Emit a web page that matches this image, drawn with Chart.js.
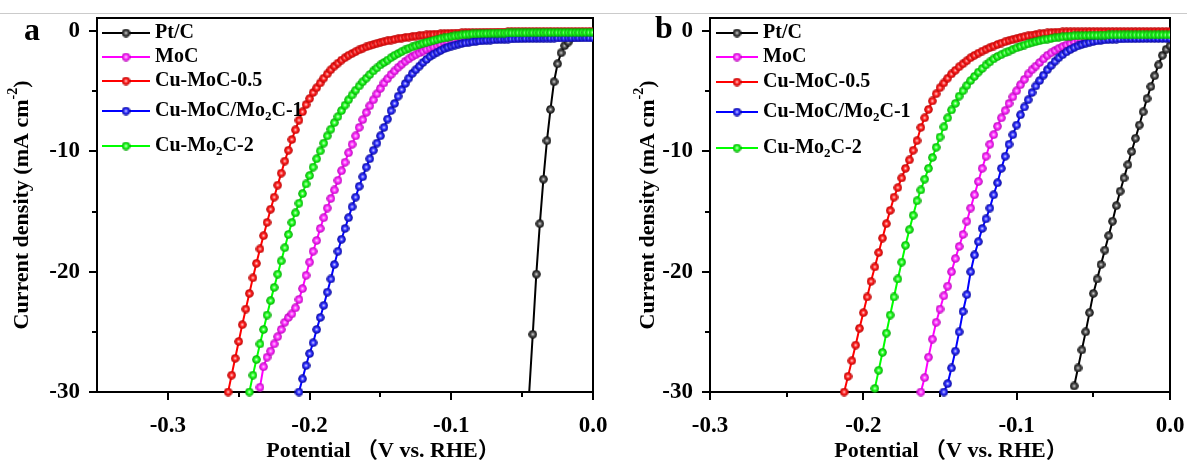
<!DOCTYPE html>
<html>
<head>
<meta charset="utf-8">
<script src="https://cdn.jsdelivr.net/npm/chart.js@4.4.1/dist/chart.umd.min.js"></script>
<style>
  html, body { margin: 0; padding: 0; background: #fff; }
  body { width: 1187px; height: 462px; position: relative; overflow: hidden; }
  .rule { position: absolute; left: 0; top: 13px; width: 1187px; height: 1px; background: #cbcbcb; }
  #chartA { position: absolute; left: 0; top: 0; }
  #chartB { position: absolute; left: 600px; top: 0; }
</style>
</head>
<body>
<div class="rule"></div>
<canvas id="chartA" width="625" height="462"></canvas>
<canvas id="chartB" width="587" height="462"></canvas>
<script>
// ---- data ----
const seriesNames = ['Pt/C', 'MoC', 'Cu-MoC-0.5', 'Cu-MoC/Mo_{2}C-1', 'Cu-Mo_{2}C-2'];
const seriesColors = ['#000000', '#ff00ff', '#ff0000', '#0000ff', '#00ff00'];

const potentialMajor = [-0.3, -0.2, -0.1, 0.0];
const potentialMinor = [-0.25, -0.15, -0.05];
const currentMajor = [-30, -20, -10, 0];
const currentMinor = [-25, -15, -5];

const xTitle = 'Potential （V vs. RHE）';
const yTitle = 'Current density (mA cm^{-2})';

// panel a : potential (V vs RHE), every series ends at 0.0
const potentialA = [
  -0.2575, -0.255, -0.2525, -0.25, -0.2475, -0.245, -0.2425, -0.24, -0.2375, -0.235,
  -0.2325, -0.23, -0.2275, -0.225, -0.2225, -0.22, -0.2175, -0.215, -0.2125, -0.21,
  -0.2075, -0.205, -0.2025, -0.2, -0.1975, -0.195, -0.1925, -0.19, -0.1875, -0.185,
  -0.1825, -0.18, -0.1775, -0.175, -0.1725, -0.17, -0.1675, -0.165, -0.1625, -0.16,
  -0.1575, -0.155, -0.1525, -0.15, -0.1475, -0.145, -0.1425, -0.14, -0.1375, -0.135,
  -0.1325, -0.13, -0.1275, -0.125, -0.1225, -0.12, -0.1175, -0.115, -0.1125, -0.11,
  -0.1075, -0.105, -0.1025, -0.1, -0.0975, -0.095, -0.0925, -0.09, -0.0875, -0.085,
  -0.0825, -0.08, -0.0775, -0.075, -0.0725, -0.07, -0.0675, -0.065, -0.0625, -0.06,
  -0.0575, -0.055, -0.0525, -0.05, -0.0475, -0.045, -0.0425, -0.04, -0.0375, -0.035,
  -0.0325, -0.03, -0.0275, -0.025, -0.0225, -0.02, -0.0175, -0.015, -0.0125, -0.01,
  -0.0075, -0.005, -0.0025, 0
];
const ptcA = [-30.0, -25.2, -20.2, -16.0, -12.3, -9.1, -6.5, -4.2, -2.7, -1.8,
  -1.2, -0.9, -0.8, -0.76, -0.74, -0.72, -0.71, -0.7, -0.7];
const mocA = [
  -29.6,
  -27.9, -27.1, -26.6, -26.0, -25.4, -24.8, -24.2, -23.8, -23.5, -23.0,
  -22.3, -21.4, -20.3, -19.2, -18.3, -17.4, -16.4, -15.5, -14.7, -13.9,
  -13.2, -12.4, -11.6, -10.9, -10.1, -9.4, -8.7, -8.0, -7.35, -6.75,
  -6.2, -5.7, -5.2, -4.75, -4.3, -3.95, -3.6, -3.3, -3.0, -2.75,
  -2.5, -2.3, -2.1, -1.95, -1.8, -1.65, -1.5, -1.4, -1.3, -1.2,
  -1.1, -1.0, -0.92, -0.84, -0.77, -0.71, -0.65, -0.6, -0.56, -0.52,
  -0.49, -0.46, -0.43, -0.41, -0.39, -0.37, -0.36, -0.35, -0.34, -0.33,
  -0.33, -0.32, -0.32, -0.31, -0.31, -0.31, -0.3, -0.3, -0.3, -0.3,
  -0.3, -0.3, -0.3, -0.3, -0.3, -0.3, -0.3, -0.3, -0.3, -0.3,
  -0.3, -0.3, -0.3, -0.3
];
const cuMoC05A = [
  -30.0, -28.6, -27.2, -25.8, -24.4, -23.1, -21.8, -20.5, -19.3, -18.1,
  -17.0, -15.9, -14.8, -13.8, -12.8, -11.8, -10.8, -9.9, -9.0, -8.2,
  -7.4, -6.7, -6.1, -5.6, -5.1, -4.7, -4.3, -3.9, -3.55, -3.2,
  -2.9, -2.65, -2.4, -2.2, -2.0, -1.85, -1.7, -1.55, -1.42, -1.3,
  -1.2, -1.1, -1.01, -0.93, -0.86, -0.79, -0.73, -0.67, -0.62, -0.57,
  -0.52, -0.48, -0.44, -0.4, -0.37, -0.34, -0.31, -0.28, -0.26, -0.24,
  -0.22, -0.2, -0.18, -0.17, -0.16, -0.15, -0.14, -0.13, -0.12, -0.11,
  -0.1, -0.1, -0.09, -0.09, -0.08, -0.08, -0.07, -0.07, -0.07, -0.06,
  -0.06, -0.06, -0.06, -0.05, -0.05, -0.05, -0.05, -0.05, -0.05, -0.05,
  -0.05, -0.05, -0.05, -0.05, -0.05, -0.05, -0.05, -0.05, -0.05, -0.05,
  -0.05, -0.05, -0.05, -0.05
];
const cuMoCMo2C1A = [
  -30.0, -28.9, -27.8, -26.8, -25.9, -24.8, -23.8, -22.8, -21.7, -20.6,
  -19.4, -18.3, -17.3, -16.4, -15.5, -14.6, -13.8, -12.9, -12.1, -11.3,
  -10.6, -9.9, -9.3, -8.7, -8.0, -7.3, -6.6, -6.0, -5.4, -4.85,
  -4.35, -3.9, -3.5, -3.2, -2.9, -2.6, -2.35, -2.1, -1.9, -1.75,
  -1.6, -1.45, -1.33, -1.23, -1.15, -1.08, -1.02, -0.97, -0.92, -0.88,
  -0.84, -0.81, -0.78, -0.75, -0.73, -0.71, -0.69, -0.67, -0.66, -0.65,
  -0.64, -0.63, -0.62, -0.61, -0.6, -0.6, -0.59, -0.59, -0.58, -0.58,
  -0.57, -0.57, -0.57, -0.56, -0.56, -0.56, -0.55, -0.55, -0.55, -0.55,
  -0.55, -0.55, -0.55, -0.55
];
const cuMo2C2A = [
  -30.0, -28.6, -27.3, -26.0,
  -24.8, -23.6, -22.4, -21.3, -20.2, -19.1, -18.0, -16.9, -15.9, -15.1,
  -14.3, -13.5, -12.7, -12.0, -11.3, -10.6, -9.95, -9.3, -8.7, -8.15,
  -7.6, -7.1, -6.6, -6.15, -5.7, -5.3, -4.9, -4.55, -4.2, -3.9,
  -3.6, -3.3, -3.05, -2.8, -2.6, -2.4, -2.2, -2.0, -1.85, -1.7,
  -1.55, -1.42, -1.3, -1.2, -1.1, -1.0, -0.92, -0.84, -0.76, -0.69,
  -0.62, -0.56, -0.5, -0.44, -0.39, -0.35, -0.31, -0.28, -0.25, -0.23,
  -0.21, -0.2, -0.19, -0.18, -0.17, -0.16, -0.16, -0.15, -0.15, -0.14,
  -0.14, -0.14, -0.13, -0.13, -0.13, -0.12, -0.12, -0.12, -0.12, -0.11,
  -0.11, -0.11, -0.11, -0.11, -0.11, -0.11, -0.11, -0.11, -0.11, -0.11,
  -0.1, -0.1, -0.1, -0.1
];

// panel b
const potentialB = [
  -0.2125, -0.21, -0.2075, -0.205, -0.2025, -0.2, -0.1975, -0.195, -0.1925, -0.19,
  -0.1875, -0.185, -0.1825, -0.18, -0.1775, -0.175, -0.1725, -0.17, -0.1675, -0.165,
  -0.1625, -0.16, -0.1575, -0.155, -0.1525, -0.15, -0.1475, -0.145, -0.1425, -0.14,
  -0.1375, -0.135, -0.1325, -0.13, -0.1275, -0.125, -0.1225, -0.12, -0.1175, -0.115,
  -0.1125, -0.11, -0.1075, -0.105, -0.1025, -0.1, -0.0975, -0.095, -0.0925, -0.09,
  -0.0875, -0.085, -0.0825, -0.08, -0.0775, -0.075, -0.0725, -0.07, -0.0675, -0.065,
  -0.0625, -0.06, -0.0575, -0.055, -0.0525, -0.05, -0.0475, -0.045, -0.0425, -0.04,
  -0.0375, -0.035, -0.0325, -0.03, -0.0275, -0.025, -0.0225, -0.02, -0.0175, -0.015,
  -0.0125, -0.01, -0.0075, -0.005, -0.0025, 0
];
const ptcB = [
  -29.5, -28.0, -26.5, -25.0, -23.4, -21.8, -20.6, -19.4, -18.2, -17.0,
  -15.8, -14.5, -13.3, -12.2, -11.1, -10.0, -8.9, -7.8, -6.7, -5.6,
  -4.6, -3.7, -2.8, -2.0, -1.5, -1.2
];
const mocB = [
  -30.0, -28.8, -27.1, -25.6, -24.2, -23.1, -22.0, -21.2, -20.0, -18.9,
  -17.9, -16.9, -15.8, -14.7, -13.6, -12.5, -11.4, -10.4, -9.4, -8.6,
  -7.9, -7.2, -6.6, -6.0, -5.45, -4.95, -4.45, -4.0, -3.55, -3.2,
  -2.9, -2.6, -2.3, -2.0, -1.8, -1.6, -1.42, -1.27, -1.14, -1.02,
  -0.92, -0.83, -0.75, -0.68, -0.62, -0.57, -0.53, -0.5, -0.47, -0.45,
  -0.43, -0.42, -0.41, -0.4, -0.39, -0.38, -0.38, -0.37, -0.37, -0.36,
  -0.36, -0.36, -0.36, -0.36, -0.36, -0.36
];
const cuMoC05B = [
  -30.0, -28.7, -27.4, -26.1, -24.7, -23.4, -22.1, -20.8, -19.6, -18.4,
  -17.2, -16.0, -14.9, -13.8, -13.0, -12.2, -11.4, -10.7, -9.9, -9.1,
  -8.0, -7.2, -6.5, -5.8, -5.2, -4.7, -4.3, -3.9, -3.55, -3.25,
  -2.95, -2.7, -2.45, -2.2, -2.0, -1.82, -1.65, -1.5, -1.36, -1.23,
  -1.1, -0.98, -0.87, -0.77, -0.68, -0.6, -0.52, -0.45, -0.38, -0.32,
  -0.27, -0.22, -0.18, -0.14, -0.11, -0.09, -0.07, -0.06, -0.05, -0.05,
  -0.05, -0.05, -0.05, -0.05, -0.04, -0.04, -0.04, -0.04, -0.04, -0.04,
  -0.04, -0.04, -0.04, -0.04, -0.04, -0.04, -0.04, -0.04, -0.04, -0.04,
  -0.04, -0.04, -0.04, -0.04, -0.04, -0.04
];
const cuMoCMo2C1B = [
  -30.0, -29.3, -28.0, -26.6,
  -25.0, -23.3, -21.9, -20.0, -18.6, -17.5, -16.4, -15.6, -14.7, -13.6,
  -12.6, -11.4, -10.4, -9.4, -8.6, -7.8, -6.95, -6.3, -5.7, -5.1,
  -4.55, -4.1, -3.65, -3.2, -2.85, -2.5, -2.2, -1.95, -1.72, -1.52,
  -1.36, -1.22, -1.1, -1.0, -0.92, -0.85, -0.8, -0.76, -0.72, -0.69,
  -0.67, -0.65, -0.64, -0.63, -0.62, -0.62, -0.61, -0.61, -0.6, -0.6,
  -0.6, -0.6, -0.6, -0.6, -0.6, -0.6
];
const cuMo2C2B = [
  -29.7, -28.2,
  -26.7, -25.1, -23.6, -22.1, -20.6, -19.2, -17.8, -16.5, -15.3, -14.1,
  -13.2, -12.3, -11.4, -10.5, -9.65, -8.8, -7.95, -7.2, -6.55, -6.0,
  -5.4, -4.95, -4.5, -4.1, -3.75, -3.4, -3.1, -2.8, -2.55, -2.3,
  -2.1, -1.95, -1.8, -1.65, -1.5, -1.38, -1.26, -1.15, -1.05, -0.95,
  -0.86, -0.79, -0.72, -0.66, -0.6, -0.55, -0.5, -0.46, -0.43, -0.4,
  -0.38, -0.37, -0.36, -0.35, -0.34, -0.33, -0.33, -0.32, -0.32, -0.31,
  -0.3, -0.3, -0.3, -0.3, -0.3, -0.3, -0.3, -0.3, -0.3, -0.3,
  -0.3, -0.3, -0.3, -0.3, -0.3, -0.3
];

// ---- drawing helpers ----
const FONT = "'Liberation Serif', 'Times New Roman', 'Noto Sans CJK SC', serif";

// sphere markers like the Origin symbols
const ballShades = [
  ['#d8d8d8', '#505050', '#000000'],
  ['#ffd8ff', '#ff30ff', '#b000b0'],
  ['#ffd8d8', '#ff2020', '#b00000'],
  ['#d8d8ff', '#3030ff', '#00008c'],
  ['#d8ffd8', '#20ff20', '#009a00']
];
function makeBall(shade) {
  const c = document.createElement('canvas');
  c.width = 9; c.height = 9;
  const g = c.getContext('2d');
  const grad = g.createRadialGradient(4.5, 4.5, 0, 4.5, 4.5, 4.5);
  grad.addColorStop(0, shade[0]);
  grad.addColorStop(0.45, shade[1]);
  grad.addColorStop(1, shade[2]);
  g.fillStyle = grad;
  g.beginPath();
  g.arc(4.5, 4.5, 4.3, 0, Math.PI * 2);
  g.fill();
  return c;
}
const balls = ballShades.map(makeBall);

// text with _{sub} and ^{sup}
function richParts(s) {
  const parts = [];
  const re = /([_^])\{([^}]*)\}/g;
  let last = 0, m;
  while ((m = re.exec(s))) {
    if (m.index > last) parts.push({ t: s.slice(last, m.index), k: '' });
    parts.push({ t: m[2], k: m[1] });
    last = re.lastIndex;
  }
  if (last < s.length) parts.push({ t: s.slice(last), k: '' });
  return parts;
}
function drawRich(ctx, s, x, y, size, align) {
  const parts = richParts(s);
  const font = k => 'bold ' + (k ? Math.round(size * 0.65) : size) + 'px ' + FONT;
  let w = 0;
  parts.forEach(p => { ctx.font = font(p.k); p.w = ctx.measureText(p.t).width; w += p.w; });
  let cx = align === 'center' ? x - w / 2 : x;
  ctx.textAlign = 'left';
  parts.forEach(p => {
    ctx.font = font(p.k);
    const dy = p.k === '_' ? size * 0.28 : (p.k === '^' ? -size * 0.38 : 0);
    ctx.fillText(p.t, cx, y + dy);
    cx += p.w;
  });
}

function toPoints(pots, vals) {
  const off = pots.length - vals.length;
  return vals.map((v, i) => ({ x: pots[off + i], y: v }));
}

// frame, minor/major ticks, legend, titles
const decor = {
  id: 'decor',
  beforeDatasetsDraw(chart, args, opts) {
    const ctx = chart.ctx, a = chart.chartArea;
    const xs = chart.scales.x, ys = chart.scales.y;
    ctx.save();
    ctx.strokeStyle = '#000';
    ctx.lineWidth = 2;
    ctx.strokeRect(a.left, a.top, a.right - a.left, a.bottom - a.top);
    ctx.beginPath();
    xs.ticks.forEach(t => {
      const p = Math.round(xs.getPixelForValue(t.value));
      ctx.moveTo(p, a.bottom);
      ctx.lineTo(p, a.bottom + (potentialMajor.includes(t.value) ? 8 : 5));
    });
    ys.ticks.forEach(t => {
      const p = Math.round(ys.getPixelForValue(t.value));
      ctx.moveTo(a.left, p);
      ctx.lineTo(a.left - (currentMajor.includes(t.value) ? 8 : 5), p);
    });
    ctx.stroke();
    ctx.restore();
  },
  afterDraw(chart, args, opts) {
    const ctx = chart.ctx, a = chart.chartArea;
    ctx.save();
    // legend
    const lx = opts.legendX;
    seriesNames.forEach((name, i) => {
      const y = opts.legendRows[i];
      ctx.strokeStyle = seriesColors[i];
      ctx.lineWidth = 2;
      ctx.beginPath();
      ctx.moveTo(lx[0], y);
      ctx.lineTo(lx[1], y);
      ctx.stroke();
      const b = balls[i];
      ctx.drawImage(b, (lx[0] + lx[1]) / 2 - b.width / 2, y - b.height / 2);
      ctx.fillStyle = '#000';
      ctx.textBaseline = 'middle';
      drawRich(ctx, name, lx[2], y, 20, 'left');
    });
    // axis titles
    ctx.fillStyle = '#000';
    ctx.textBaseline = 'alphabetic';
    drawRich(ctx, xTitle, opts.xTitleX, 457, 22, 'center');
    ctx.save();
    ctx.translate(opts.yTitleX, (a.top + a.bottom) / 2);
    ctx.rotate(-Math.PI / 2);
    ctx.textBaseline = 'middle';
    drawRich(ctx, yTitle, 0, 0, 22, 'center');
    ctx.restore();
    // panel letter
    ctx.font = 'bold 32px ' + FONT;
    ctx.textAlign = 'left';
    ctx.textBaseline = 'alphabetic';
    ctx.fillText(opts.letter, opts.letterX, opts.letterY);
    ctx.restore();
  }
};

function buildChart(id, o) {
  const datasets = o.series.map((vals, i) => {
    const n = vals.length;
    const skip = i === 0 ? o.ptcSkip : [0, 0];
    return {
      label: seriesNames[i],
      data: toPoints(o.potential, vals),
      borderColor: seriesColors[i],
      backgroundColor: seriesColors[i],
      borderWidth: 2,
      pointStyle: balls[i],
      pointRadius: c => (c.dataIndex < skip[0] || c.dataIndex >= n - skip[1]) ? 0 : 4,
      order: seriesNames.length - i,
      clip: { left: 0, top: 0, right: 0, bottom: 5 }
    };
  });
  const tickFont = { family: FONT, size: 23, weight: 'bold' };
  return new Chart(document.getElementById(id), {
    type: 'line',
    data: { datasets },
    plugins: [decor],
    options: {
      responsive: false,
      animation: false,
      events: [],
      layout: { padding: { top: 18, right: o.padRight, left: 0, bottom: 0 } },
      elements: { line: { tension: 0 } },
      plugins: {
        legend: { display: false },
        tooltip: { enabled: false },
        decor: o.decor
      },
      scales: {
        x: {
          type: 'linear',
          min: o.xMin,
          max: 0,
          border: { display: false },
          grid: { display: false },
          afterBuildTicks: s => {
            s.ticks = potentialMajor.concat(potentialMinor)
              .filter(v => v >= o.xMin)
              .sort((p, q) => p - q)
              .map(v => ({ value: v }));
          },
          afterFit: s => { s.height = 70; s.paddingLeft = 0; s.paddingRight = 0; },
          ticks: {
            autoSkip: false,
            maxRotation: 0,
            padding: 12,
            color: '#000',
            font: tickFont,
            callback: v => potentialMajor.includes(v) ? v.toFixed(1) : ''
          }
        },
        y: {
          type: 'linear',
          min: -30,
          max: 1.1,
          border: { display: false },
          grid: { display: false },
          afterBuildTicks: s => {
            s.ticks = currentMajor.concat(currentMinor)
              .sort((p, q) => p - q)
              .map(v => ({ value: v }));
          },
          afterFit: s => { s.width = o.yWidth; s.paddingTop = 0; s.paddingBottom = 0; },
          ticks: {
            autoSkip: false,
            padding: 9,
            color: '#000',
            font: tickFont,
            callback: v => currentMajor.includes(v) ? String(v) : ''
          }
        }
      }
    }
  });
}

buildChart('chartA', {
  potential: potentialA,
  series: [ptcA, mocA, cuMoC05A, cuMoCMo2C1A, cuMo2C2A],
  ptcSkip: [1, 7],
  xMin: -0.35,
  yWidth: 97,
  padRight: 32,
  decor: {
    legendX: [102, 150, 155],
    legendRows: [33, 57, 81, 111, 146],
    xTitleX: 383,
    yTitleX: 22,
    letter: 'a',
    letterX: 24,
    letterY: 40
  }
});

buildChart('chartB', {
  potential: potentialB,
  series: [ptcB, mocB, cuMoC05B, cuMoCMo2C1B, cuMo2C2B],
  ptcSkip: [0, 0],
  xMin: -0.3,
  yWidth: 110,
  padRight: 17,
  decor: {
    legendX: [116, 158, 163],
    legendRows: [33, 57, 82, 112, 148],
    xTitleX: 351,
    yTitleX: 48,
    letter: 'b',
    letterX: 55,
    letterY: 38
  }
});
</script>
</body>
</html>
